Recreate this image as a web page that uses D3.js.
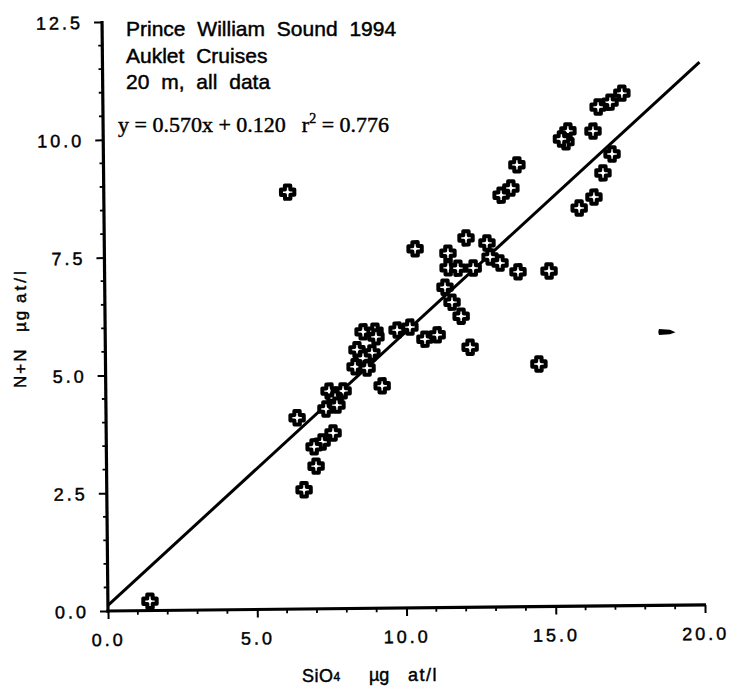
<!DOCTYPE html>
<html><head><meta charset="utf-8">
<script src="https://cdn.jsdelivr.net/npm/d3@7"></script>
<style>body{margin:0;background:#fff} svg{display:block}</style>
</head><body>
<svg id="c" width="732" height="690"></svg>
<script>
// ---- data ----
const xTicks = [0, 5, 10, 15, 20];
const xTickLabels = ["0.0", "5.0", "10.0", "15.0", "20.0"];
const yTicks = [0, 2.5, 5, 7.5, 10, 12.5];
const yTickLabels = ["0.0", "2.5", "5.0", "7.5", "10.0", "12.5"];
const xMinor = [1, 2, 3, 4, 6, 7, 8, 9, 11, 12, 13, 14, 16, 17, 18, 19];
const yMinor = [0.5, 1, 1.5, 2, 3, 3.5, 4, 4.5, 5.5, 6, 6.5, 7, 8, 8.5, 9, 9.5, 10.5, 11, 11.5, 12];

const sio4 = [1.41, 6.16, 8.64, 9.04, 9.07, 9.78, 8.43, 8.93, 8.63, 8.36, 8.76, 9.26, 7.48, 7.95, 7.68, 7.37, 7.74, 6.40, 7.60, 7.23, 6.96, 7.02, 6.61,
  17.39, 16.99, 16.59, 15.57, 15.50, 15.35, 16.41, 13.85, 13.64, 13.31, 17.04, 16.73, 16.42, 15.92,
  10.41, 12.12, 12.82, 11.51, 11.51, 11.84, 12.35, 12.92, 13.25, 13.85, 14.89, 11.40, 11.63, 11.93, 10.21, 10.71, 11.12, 12.22, 14.52];
const nn = [0.20, 8.85, 5.87, 5.88, 5.76, 5.90, 5.49, 5.42, 5.31, 5.13, 5.10, 4.72, 4.62, 4.62, 4.47, 4.24, 4.32, 4.06, 3.73, 3.54, 3.44, 3.03, 2.53,
  10.88, 10.69, 10.59, 10.09, 9.86, 9.92, 10.08, 9.38, 8.89, 8.74, 9.59, 9.19, 8.68, 8.45,
  7.62, 7.84, 7.73, 7.52, 7.21, 7.20, 7.20, 7.43, 7.30, 7.11, 7.12, 6.80, 6.48, 6.18, 5.96, 5.70, 5.79, 5.52, 5.15];
// one point printed as a smudged dart
const oddSio4 = [18.82];
const oddNn = [5.80];

const fitSlope = 0.570, fitIntercept = 0.120, fitR2 = 0.776;
const fitRange = [0, 20];
const titleLines = ["Prince William Sound 1994", "Auklet Cruises", "20 m, all data"];
const xTitle = ["SiO", "4", "\u00b5g", "at/l"];
const yTitle = ["N+N", "\u00b5g", "at/l"];

// ---- drawing ----
const svg = d3.select("#c");
const x = d3.scaleLinear().domain([0, 20]).range([108, 705]);
const y = d3.scaleLinear().domain([0, 12.5]).range([611, 22]);
const sans = "'Liberation Sans', Arial, Helvetica, sans-serif";
const ink = "#000";
const inkStroke = sel => sel.style("stroke", ink).style("stroke-width", "0.45px").style("paint-order", "stroke");

// the scanned figure is slightly rotated
const plot = svg.append("g").attr("transform", `rotate(-0.58,${x(0)},${y(0)})`);

// x axis
const gx = plot.append("g").attr("transform", `translate(0,${y(0)})`)
  .call(d3.axisBottom(x).tickValues(xTicks).tickSize(8).tickSizeOuter(0)
    .tickFormat((d, i) => xTickLabels[i]));
gx.select(".domain").remove();
gx.selectAll(".tick line").style("stroke", ink).style("stroke-width", "2px");
gx.selectAll(".tick text").attr("y", 35).attr("dy", 0)
  .style("font-family", sans).style("font-size", "18px").style("letter-spacing", "3px")
  .attr("fill", ink).call(inkStroke);
gx.selectAll(".minor").data(xMinor).join("line").attr("class", "minor")
  .attr("x1", d => x(d)).attr("x2", d => x(d)).attr("y1", 0).attr("y2", 4)
  .style("stroke", ink).style("stroke-width", "1.8px");
gx.append("line").attr("x1", x(0) - 1.5).attr("x2", x(20) + 1).attr("y1", 0).attr("y2", 0)
  .style("stroke", ink).style("stroke-width", "3.2px");

// y axis
const gy = plot.append("g").attr("transform", `translate(${x(0)},0)`)
  .call(d3.axisLeft(y).tickValues(yTicks).tickSize(8).tickSizeOuter(0)
    .tickFormat((d, i) => yTickLabels[i]));
gy.select(".domain").remove();
gy.selectAll(".tick line").style("stroke", ink).style("stroke-width", "2px");
gy.selectAll(".tick text").attr("x", -19).attr("dy", "0.36em")
  .style("font-family", sans).style("font-size", "18px").style("letter-spacing", "3px")
  .attr("fill", ink).call(inkStroke);
gy.selectAll(".minor").data(yMinor).join("line").attr("class", "minor")
  .attr("y1", d => y(d)).attr("y2", d => y(d)).attr("x1", 0).attr("x2", -4)
  .style("stroke", ink).style("stroke-width", "1.8px");
gy.append("line").attr("x1", 0).attr("x2", 0).attr("y1", y(0) + 1.5).attr("y2", y(12.5) - 1)
  .style("stroke", ink).style("stroke-width", "3.2px");

// regression line
plot.append("path")
  .datum(fitRange)
  .attr("fill", "none").style("stroke", ink).style("stroke-width", "3px")
  .attr("d", d3.line().x(d => x(d)).y(d => y(fitSlope * d + fitIntercept)));

// markers
const plusPath = "M-2.7,-6.7H2.7V-2.7H6.7V2.7H2.7V6.7H-2.7V2.7H-6.7V-2.7H-2.7Z";
plot.append("g").selectAll("path").data(d3.range(sio4.length)).join("path")
  .attr("transform", i => `translate(${x(sio4[i])},${y(nn[i])})`)
  .attr("d", plusPath)
  .attr("fill", "#fff").style("stroke", ink).style("stroke-width", "4px")
  .attr("stroke-linejoin", "round");

plot.append("g").selectAll("path").data(d3.range(oddSio4.length)).join("path")
  .attr("transform", i => `translate(${x(oddSio4[i])},${y(oddNn[i])})`)
  .attr("d", "M-8,-3 Q-9.5,0 -8,3 L3,2.2 L8.5,0.3 L3,-2.2 Z")
  .attr("fill", ink);

// annotation
const ann = svg.append("text").attr("x", 126).attr("y", 36)
  .style("font-family", sans).style("font-size", "21px").style("word-spacing", "6px")
  .attr("fill", ink).call(inkStroke);
ann.selectAll("tspan").data(titleLines).join("tspan")
  .attr("x", 126).attr("dy", (d, i) => i === 0 ? 0 : 26.5).text(d => d);

const eq = svg.append("text").attr("x", 118).attr("y", 132)
  .style("font-family", "'Liberation Serif', 'Times New Roman', serif").style("font-size", "22px")
  .attr("fill", ink).call(inkStroke);
eq.append("tspan").text(`y = ${fitSlope.toFixed(3)}x + ${fitIntercept.toFixed(3)}`);
eq.append("tspan").attr("dx", 16).text("r");
eq.append("tspan").attr("dy", -9).style("font-size", "14px").text("2");
eq.append("tspan").attr("dy", 9).text(` = ${fitR2.toFixed(3)}`);

// axis titles
const xt = svg.append("text").attr("x", 302).attr("y", 682)
  .style("font-family", sans).style("font-size", "18px").attr("fill", ink).call(inkStroke);
xt.append("tspan").style("letter-spacing", "0.5px").text(xTitle[0]);
xt.append("tspan").attr("dy", -1).style("font-size", "12px").text(xTitle[1]);
svg.append("text").attr("x", 369).attr("y", 681)
  .style("font-family", sans).style("font-size", "18px").attr("fill", ink).call(inkStroke).text(xTitle[2]);
svg.append("text").attr("x", 408).attr("y", 681)
  .style("font-family", sans).style("font-size", "18px").style("letter-spacing", "1.5px")
  .attr("fill", ink).call(inkStroke).text(xTitle[3]);

const yPos = [388, 332, 303];
yTitle.forEach((t, i) => {
  svg.append("text").attr("transform", `translate(26,${yPos[i]}) rotate(-90)`)
    .style("font-family", sans).style("font-size", "17px").style("letter-spacing", i === 2 ? "3px" : "2px")
    .attr("fill", ink).call(inkStroke).text(t);
});
</script>
</body></html>
